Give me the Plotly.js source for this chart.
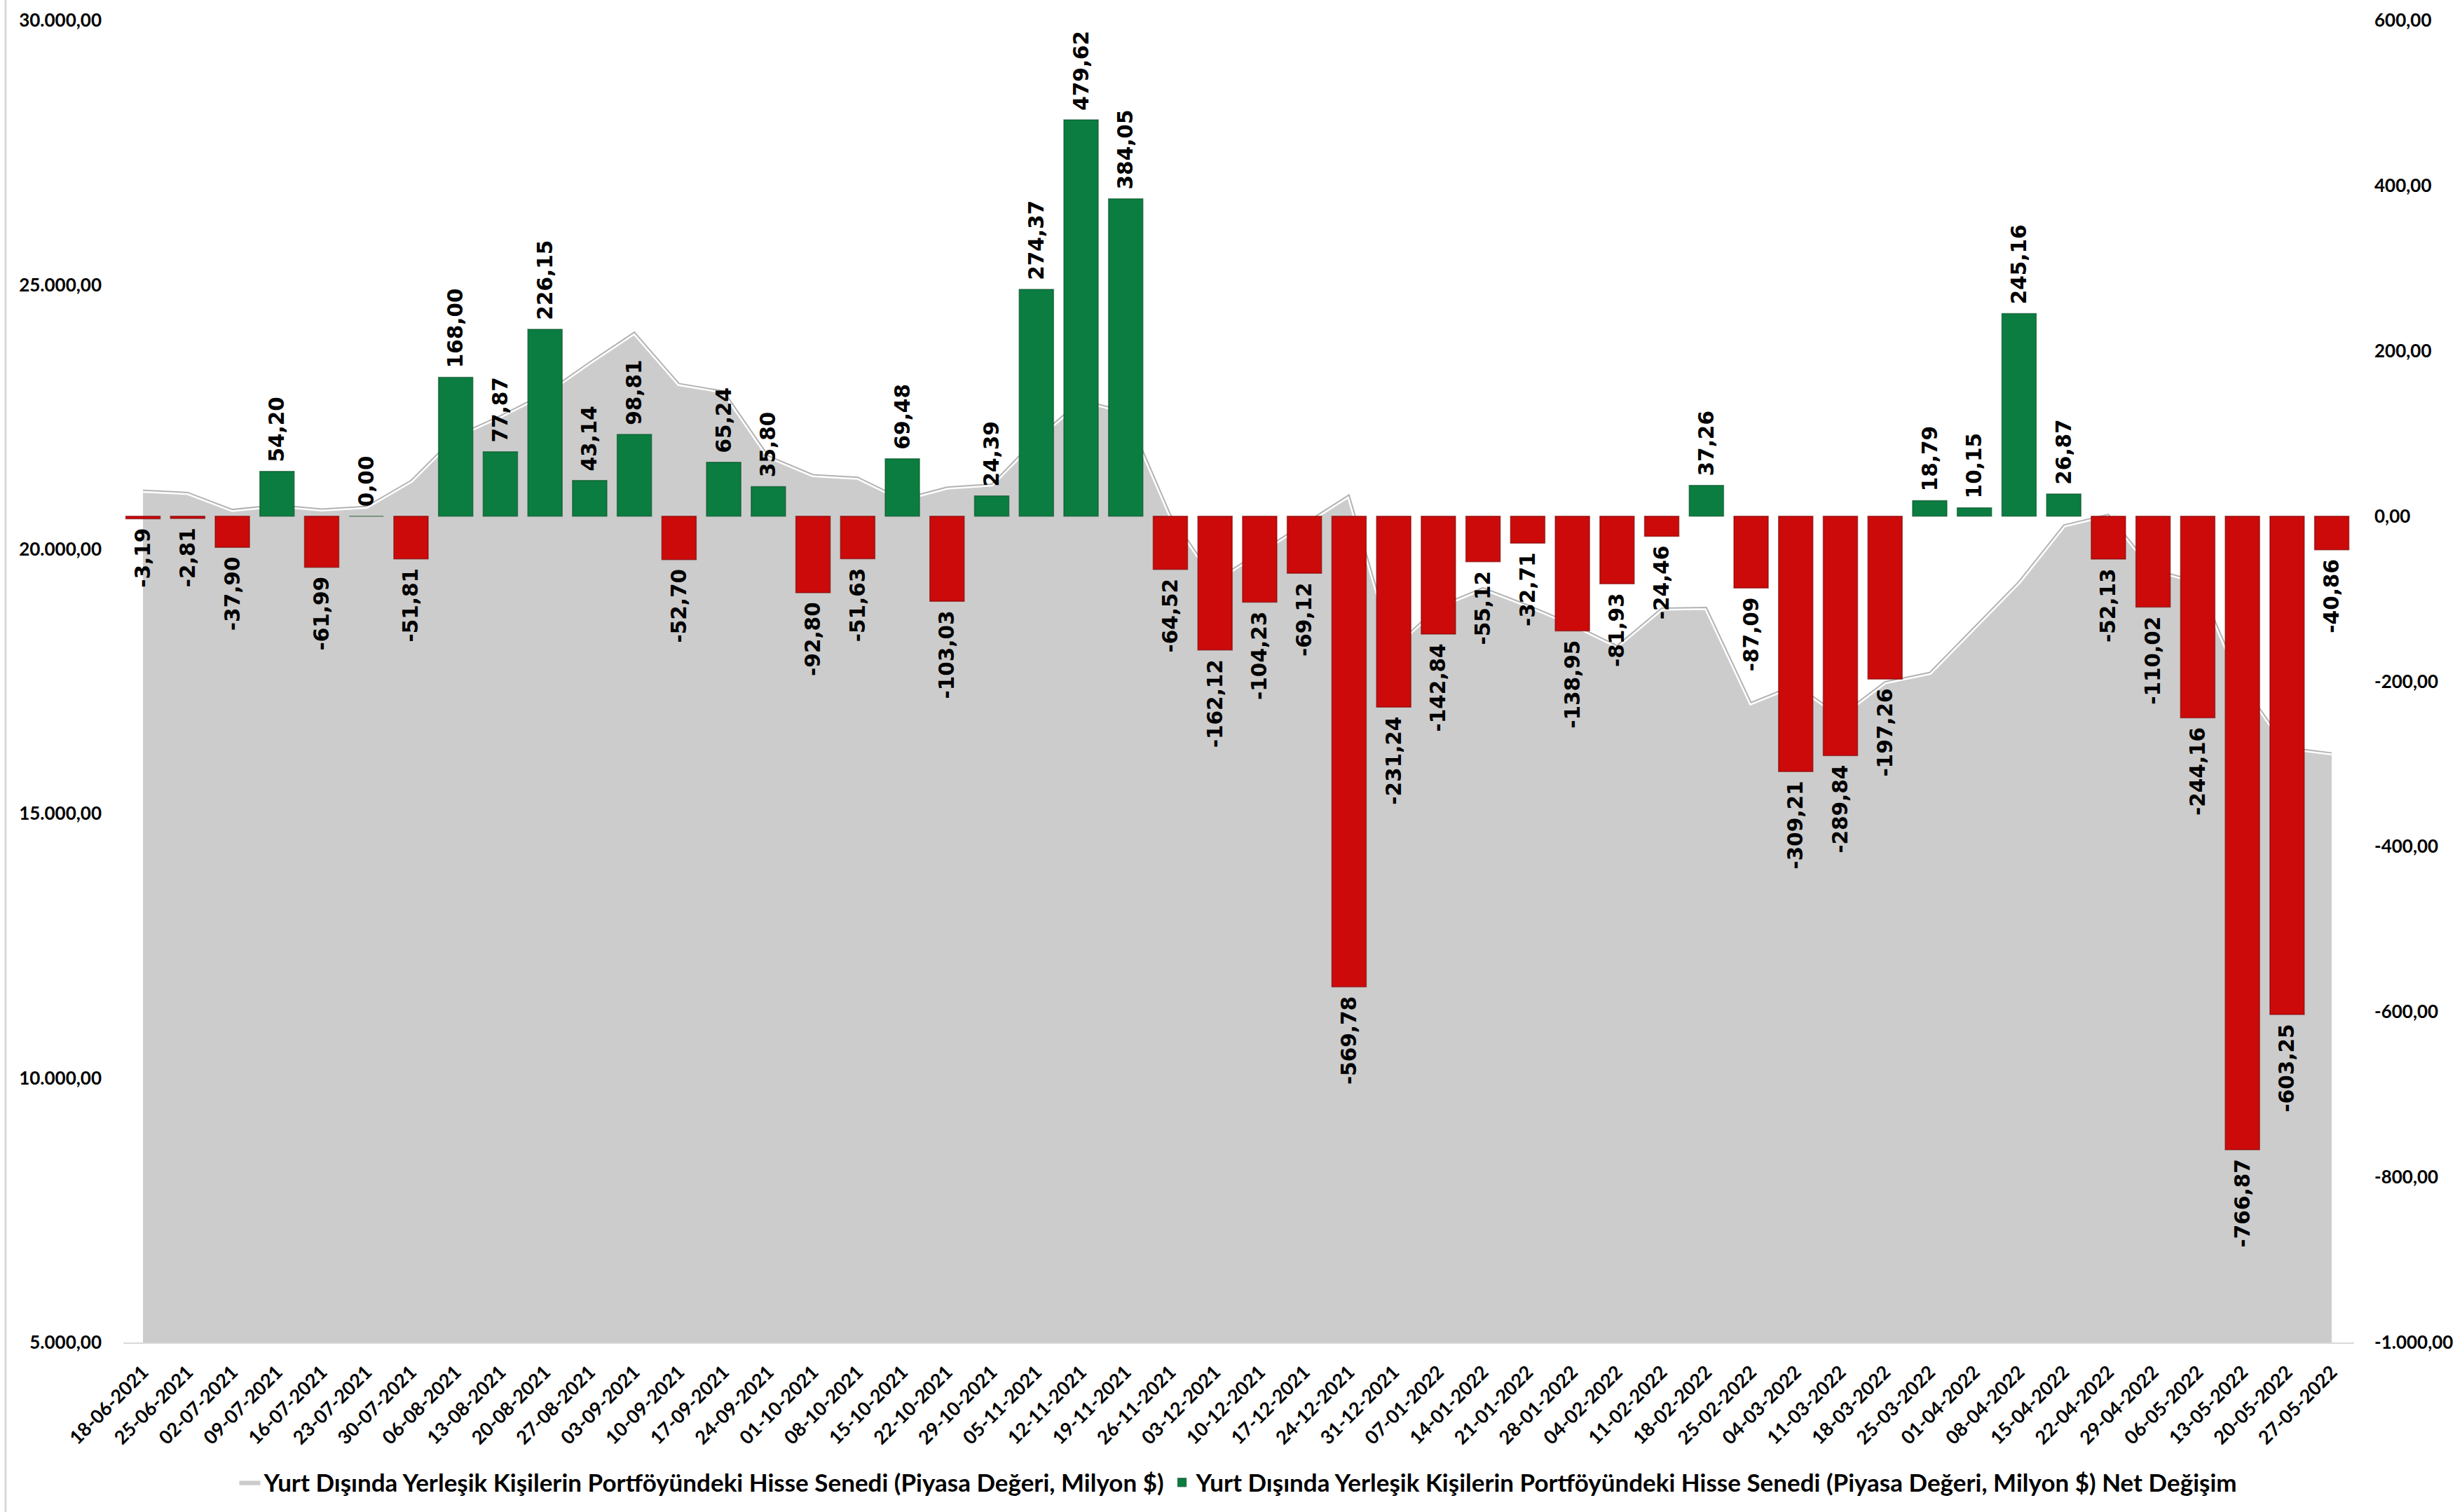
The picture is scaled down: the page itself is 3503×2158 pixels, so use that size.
<!DOCTYPE html>
<html>
<head>
<meta charset="utf-8">
<script src="https://cdn.plot.ly/plotly-3.0.1.min.js"></script>
<style>
html,body{margin:0;padding:0;background:#fff;}
#chart{width:3503px;height:2158px;}
</style>
</head>
<body>
<div id="chart"></div>
<script>
const dates = ["18-06-2021","25-06-2021","02-07-2021","09-07-2021","16-07-2021","23-07-2021","30-07-2021","06-08-2021","13-08-2021","20-08-2021","27-08-2021","03-09-2021","10-09-2021","17-09-2021","24-09-2021","01-10-2021","08-10-2021","15-10-2021","22-10-2021","29-10-2021","05-11-2021","12-11-2021","19-11-2021","26-11-2021","03-12-2021","10-12-2021","17-12-2021","24-12-2021","31-12-2021","07-01-2022","14-01-2022","21-01-2022","28-01-2022","04-02-2022","11-02-2022","18-02-2022","25-02-2022","04-03-2022","11-03-2022","18-03-2022","25-03-2022","01-04-2022","08-04-2022","15-04-2022","22-04-2022","29-04-2022","06-05-2022","13-05-2022","20-05-2022","27-05-2022"];

const marketValue = [21114,21072,20751,20834,20759,20809,21299,22144,22524,22947,23538,24103,23132,22989,21764,21409,21359,20950,21172,21230,22094,22820,22610,20660,19412,19955,20487,21025,18150,18920,19270,18944,18589,18176,18885,18897,17100,17440,16857,17493,17669,18530,19392,20456,20658,19620,19392,17450,16254,16147];

const netChange = [-3.19,-2.81,-37.90,54.20,-61.99,0.00,-51.81,168.00,77.87,226.15,43.14,98.81,-52.70,65.24,35.80,-92.80,-51.63,69.48,-103.03,24.39,274.37,479.62,384.05,-64.52,-162.12,-104.23,-69.12,-569.78,-231.24,-142.84,-55.12,-32.71,-138.95,-81.93,-24.46,37.26,-87.09,-309.21,-289.84,-197.26,18.79,10.15,245.16,26.87,-52.13,-110.02,-244.16,-766.87,-603.25,-40.86];

const leftTicks = [5000,10000,15000,20000,25000,30000];
const rightTicks = [-1000,-800,-600,-400,-200,0,200,400,600];

const nameArea = "Yurt Dışında Yerleşik Kişilerin Portföyündeki Hisse Senedi (Piyasa Değeri, Milyon $)";
const nameBar = "Yurt Dışında Yerleşik Kişilerin Portföyündeki Hisse Senedi (Piyasa Değeri, Milyon $) Net Değişim";

function fmt(v){
  const neg = v < 0;
  const parts = Math.abs(v).toFixed(2).split('.');
  const intPart = parts[0].replace(/\B(?=(\d{3})+(?!\d))/g, '.');
  return (neg ? '-' : '') + intPart + ',' + parts[1];
}

const NB = '\u00a0';
const posVals = netChange.map(v => v >= 0 ? v : null);
const negVals = netChange.map(v => v < 0 ? v : null);
const posText = netChange.map(v => v >= 0 ? NB + fmt(v) : '');
const negText = netChange.map(v => v < 0 ? fmt(v) + NB : '');

const axisFont = {family: 'Lato, "Open Sans", sans-serif', size: 26, color: '#000', weight: 'bold'};
const xFont = {family: 'Lato, "Open Sans", sans-serif', size: 27, color: '#000', weight: 'bold'};
const labelFont = {family: '"DejaVu Sans", Verdana, sans-serif', size: 29.5, color: '#000', weight: 'bold'};

const traces = [
  {
    type: 'scatter', mode: 'lines', x: dates, y: marketValue, yaxis: 'y',
    fill: 'tozeroy', fillcolor: '#cccccc',
    line: {color: '#c4c4c4', width: 0.5},
    name: nameArea, showlegend: true, hoverinfo: 'skip'
  },
  {
    type: 'scatter', mode: 'lines', x: dates, y: marketValue, yaxis: 'y',
    line: {color: '#ffffff', width: 7},
    showlegend: false, hoverinfo: 'skip'
  },
  {
    type: 'scatter', mode: 'lines', x: dates, y: marketValue, yaxis: 'y',
    line: {color: '#b3b3b3', width: 2},
    showlegend: false, hoverinfo: 'skip'
  },
  {
    type: 'bar', x: dates, y: negVals, yaxis: 'y2', width: 0.77,
    marker: {color: '#cc0a0a', line: {color: 'rgba(110,0,0,0.55)', width: 1.5}},
    text: negText, textposition: 'outside', textangle: -90,
    textfont: labelFont, constraintext: 'none', cliponaxis: false,
    showlegend: false, name: nameBar
  },
  {
    type: 'bar', x: dates, y: posVals, yaxis: 'y2', width: 0.77,
    marker: {color: '#0b7d40', line: {color: 'rgba(0,70,30,0.55)', width: 1.5}},
    text: posText, textposition: 'outside', textangle: -90,
    textfont: labelFont, constraintext: 'none', cliponaxis: false,
    showlegend: true, name: nameBar
  }
];

const layout = {
  width: 3503, height: 2158,
  margin: {l: 176, r: 144, t: 29, b: 242, pad: 0},
  paper_bgcolor: '#ffffff', plot_bgcolor: 'rgba(0,0,0,0)',
  barmode: 'overlay',
  font: {family: 'Lato, "Open Sans", sans-serif', color: '#000'},
  xaxis: {
    type: 'category', range: [-0.44, 49.5],
    tickangle: -45, tickfont: xFont,
    showgrid: false, zeroline: false,
    showline: true, linecolor: '#d9d9d9', linewidth: 2,
    ticks: '', ticklabelstandoff: 14
  },
  yaxis: {
    range: [5000, 30000], tickvals: leftTicks, ticktext: leftTicks.map(fmt),
    tickfont: axisFont, showgrid: false, zeroline: false, showline: false,
    ticks: '', ticklabelstandoff: 30
  },
  yaxis2: {
    overlaying: 'y', side: 'right',
    range: [-1000, 600], tickvals: rightTicks, ticktext: rightTicks.map(fmt),
    tickfont: axisFont, showgrid: false, zeroline: false, showline: false,
    ticks: '', ticklabelstandoff: 28
  },
  legend: {
    orientation: 'h', x: 0.5, xanchor: 'center', y: -0.106, yanchor: 'middle',
    font: {family: 'Lato, "Open Sans", sans-serif', size: 35, color: '#000', weight: 'bold'},
    itemwidth: 30, traceorder: 'normal', bgcolor: 'rgba(0,0,0,0)'
  },
  shapes: [
    {type: 'line', xref: 'paper', yref: 'paper', x0: -0.0528, x1: -0.0528, y0: -0.13, y1: 1.02,
     line: {color: '#d9d9d9', width: 3}}
  ],
  showlegend: true
};

Plotly.newPlot('chart', traces, layout, {displayModeBar: false, staticPlot: true});
</script>
</body>
</html>
